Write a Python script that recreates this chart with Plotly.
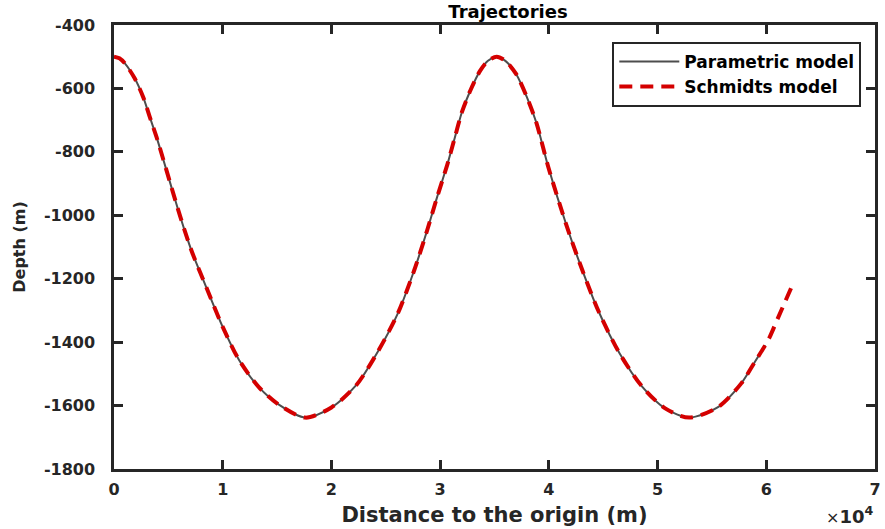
import plotly.graph_objects as go

# Distance to the origin (m) and depth (m)
x_param = [0, 500, 1000, 1900, 2670, 3280, 3900, 4500, 5100, 5720, 6480, 7200, 8500,
           10000, 11500, 13300, 15200, 17600, 20000, 22300, 24300, 26100, 27600,
           28800, 29700, 30660, 31270, 32000, 32800, 33700, 34400, 35200, 36000,
           37000, 37960, 38870, 39940, 41700, 43100, 44600, 46500, 48600, 50700,
           52900, 55600, 57700, 58900, 59900]
y_param = [-500, -505, -521, -568, -626, -689, -752, -820, -890, -962, -1046, -1118, -1228,
           -1352, -1456, -1541, -1598, -1638, -1606, -1535, -1428, -1310, -1175,
           -1048, -945, -840, -765, -675, -605, -543, -513, -500, -513,
           -555, -626, -710, -847, -1040, -1175, -1305, -1435, -1541, -1609,
           -1638, -1604, -1530, -1465, -1410]

x_schmidt = x_param + [60300, 61100, 62300]
y_schmidt = y_param + [-1385, -1322, -1228]

x_ticks = [0, 10000, 20000, 30000, 40000, 50000, 60000, 70000]
x_tick_labels = ["0", "1", "2", "3", "4", "5", "6", "7"]
y_ticks = [-1800, -1600, -1400, -1200, -1000, -800, -600, -400]
y_tick_labels = ["-1800", "-1600", "-1400", "-1200", "-1000", "-800", "-600", "-400"]

FONT = "DejaVu Sans"
AX = "#262626"

fig = go.Figure()
fig.add_trace(go.Scatter(
    x=x_param, y=y_param, mode="lines", name="Parametric model",
    line=dict(color="#4d4d4d", width=2, shape="spline", smoothing=0.8),
))
fig.add_trace(go.Scatter(
    x=x_schmidt, y=y_schmidt, mode="lines", name="Schmidts model",
    line=dict(color="#d40000", width=4, dash="13px,8px", shape="spline", smoothing=0.8),
))

axis_common = dict(
    showline=True, linecolor=AX, linewidth=2.5, mirror="ticks",
    ticks="inside", ticklen=9, tickwidth=2.5, tickcolor=AX,
    showgrid=False, zeroline=False,
    tickfont=dict(family=FONT, size=16, color=AX, weight="bold"),
)

fig.update_layout(
    width=885, height=529,
    margin=dict(l=114, r=4, t=25, b=60),
    paper_bgcolor="white", plot_bgcolor="white",
    title=dict(text="Trajectories", x=0.574, xanchor="center", y=0.977, yanchor="middle",
               font=dict(family=FONT, size=18, color="black", weight="bold")),
    xaxis=dict(range=[0, 70000], tickvals=x_ticks, ticktext=x_tick_labels,
               ticklabelstandoff=4,
               title=dict(text="Distance to the origin (m)", standoff=10,
                          font=dict(family=FONT, size=21, color=AX, weight="bold")),
               **axis_common),
    yaxis=dict(range=[-1800, -400], tickvals=y_ticks, ticktext=y_tick_labels,
               ticklabelstandoff=13,
               title=dict(text="Depth (m)", standoff=15,
                          font=dict(family=FONT, size=16, color=AX, weight="bold")),
               **axis_common),
    legend=dict(x=0.982, y=0.962, xanchor="right", yanchor="top",
                bgcolor="white", bordercolor=AX, borderwidth=2,
                itemwidth=60,
                font=dict(family=FONT, size=17, color="black", weight="bold"),
                tracegroupgap=0),
    showlegend=True,
)

fig.add_annotation(
    text="<span style='font-size:16px;font-weight:normal'>×</span>10<sup>4</sup>",
    xref="paper", yref="paper", x=1.0, y=-0.135,
    xanchor="right", yanchor="bottom", showarrow=False,
    font=dict(family=FONT, size=18, color=AX, weight="bold"),
)

fig.write_html("out.html")
